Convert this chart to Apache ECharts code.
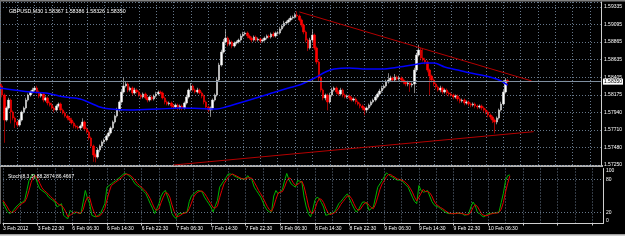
<!DOCTYPE html>
<html><head><meta charset="utf-8">
<script src="https://cdn.jsdelivr.net/npm/echarts@6/dist/echarts.min.js"></script>
<style>html,body{margin:0;padding:0;background:#000;}#c{width:625px;height:250px;}</style>
</head><body><div id="c"></div>
<script>
// ---- tick labels ----
const timeLabels = ['3 Feb 2012','3 Feb 22:30','6 Feb 06:30','6 Feb 14:30','6 Feb 22:30','7 Feb 06:30','7 Feb 14:30','7 Feb 22:30','8 Feb 06:30','8 Feb 14:30','8 Feb 22:30','9 Feb 06:30','9 Feb 14:30','9 Feb 22:30','10 Feb 06:30'];
const priceLabels = ['1.57250','1.57480','1.57710','1.57940','1.58175','1.58405','1.58635','1.58865','1.59095','1.59335'];
const stochLevels = [0, 20, 80, 100];
const headerText = 'GBPUSD,M30 1.58367 1.58386 1.58326 1.58350';
const stochText = 'Stoch(8,3,3) 88.2874 86.4667';

// ---- candles (M30) ----
const firstOpen = 1.58319;
const closes = [
1.58292,1.58173,1.57843,1.58002,1.58107,1.57949,1.57870,1.57817,1.57777,1.57843,
1.57949,1.58002,1.58107,1.58173,1.58213,1.58239,1.58266,1.58213,1.58160,1.58187,
1.58107,1.58134,1.58068,1.58041,1.58002,1.57975,1.58028,1.58055,1.57975,1.57936,
1.57896,1.57870,1.57843,1.57804,1.57764,1.57751,1.57738,1.57764,1.57817,1.57725,
1.57685,1.57606,1.57500,1.57382,1.57355,1.57448,1.57500,1.57553,1.57580,1.57632,
1.57672,1.57738,1.57817,1.57896,1.57975,1.58081,1.58213,1.58292,1.58319,1.58239,
1.58266,1.58200,1.58239,1.58213,1.58173,1.58147,1.58187,1.58134,1.58107,1.58147,
1.58121,1.58160,1.58187,1.58213,1.58200,1.58134,1.58081,1.58055,1.58068,1.58028,
1.58015,1.58041,1.58002,1.58028,1.58002,1.58068,1.58147,1.58239,1.58292,1.58239,
1.58213,1.58239,1.58200,1.58160,1.58081,1.58015,1.57975,1.58002,1.58107,1.58173,
1.58371,1.58569,1.58741,1.58873,1.58926,1.58846,1.58873,1.58820,1.58860,1.58873,
1.58899,1.58952,1.58978,1.58992,1.58952,1.58926,1.58899,1.58939,1.58899,1.58912,
1.58886,1.58899,1.58926,1.58952,1.58939,1.58978,1.58952,1.58992,1.58992,1.59044,
1.59084,1.59123,1.59137,1.59163,1.59189,1.59203,1.59229,1.59216,1.59163,1.59097,
1.59005,1.58899,1.58794,1.58899,1.58965,1.58794,1.58609,1.58398,1.58239,1.58134,
1.58173,1.58081,1.58173,1.58239,1.58266,1.58213,1.58187,1.58239,1.58173,1.58147,
1.58160,1.58134,1.58107,1.58121,1.58081,1.58055,1.58028,1.58002,1.57975,1.58002,
1.58041,1.58081,1.58107,1.58147,1.58187,1.58226,1.58266,1.58292,1.58345,1.58371,
1.58398,1.58371,1.58411,1.58385,1.58398,1.58371,1.58345,1.58319,1.58332,1.58305,
1.58319,1.58503,1.58701,1.58767,1.58662,1.58635,1.58609,1.58503,1.58424,1.58371,
1.58319,1.58279,1.58239,1.58266,1.58213,1.58239,1.58200,1.58187,1.58173,1.58147,
1.58160,1.58121,1.58094,1.58107,1.58068,1.58081,1.58055,1.58041,1.58055,1.58028,
1.58015,1.58028,1.58002,1.57975,1.57949,1.57909,1.57883,1.57843,1.57817,1.57870,
1.57975,1.58055,1.58213,1.58367,1.58350];
// wick lengths in pips (0.0001)
const wickHigh = [
2,3,2,2,3,2,2,2,2,2, 2,2,3,2,2,3,2,3,2,2, 2,2,2,2,3,2,2,2,2,2, 2,2,2,3,2,2,2,2,5,2,
2,2,2,2,2,3,2,2,2,2, 2,2,2,2,3,2,3,11,3,2, 2,2,3,2,2,2,2,2,2,2, 2,2,3,2,2,2,2,2,2,2,
2,2,2,2,2,2,3,2,4,2, 2,3,2,2,2,2,2,2,2,2, 3,3,3,4,11,2,3,2,2,2, 2,3,3,2,2,2,2,2,2,2,
2,2,2,2,2,2,3,2,3,3, 2,3,2,2,3,2,3,5,2,2, 2,2,2,3,7,2,2,2,2,2, 2,2,3,3,2,2,2,3,2,2,
2,2,2,2,2,2,2,2,2,2, 2,2,2,2,2,3,3,2,3,9, 3,2,4,2,3,2,2,2,3,2, 2,3,3,7,3,13,3,2,2,2,
2,2,2,3,2,2,2,2,2,2, 2,2,2,2,2,2,2,2,2,2, 2,2,2,2,2,2,2,2,2,2, 2,3,3,3,1.9];
const wickLow = [
2,3,30,2,2,15,3,8,3,2, 2,2,2,2,2,2,2,2,3,2, 3,2,3,2,2,3,2,2,3,2, 2,3,2,2,3,2,2,3,2,2,
2,3,2,9,7,2,3,2,2,2, 2,2,2,2,2,2,2,2,2,3, 2,3,2,2,2,3,2,2,3,2, 2,2,2,2,2,2,3,2,2,3,
3,2,3,2,3,2,2,2,2,2, 2,2,2,3,3,3,3,9,3,2, 2,2,2,2,2,3,2,3,2,2, 2,2,2,2,3,2,3,2,2,2,
3,2,2,2,2,2,2,2,2,2, 2,2,2,2,2,2,2,2,2,3, 3,3,4,2,2,3,3,4,3,3, 3,11,2,2,2,3,2,2,3,2,
2,3,2,2,3,2,3,3,7,3, 2,2,2,2,2,2,2,2,2,2, 2,2,2,2,2,3,3,3,3,9, 3,12,2,2,3,2,3,3,25,3,
3,3,2,3,3,2,3,3,2,3, 2,3,3,2,3,2,3,3,2,3, 3,2,3,3,3,3,3,4,15,3, 2,2,2,2,2.4];

// ---- moving average (blue) read at bar positions ----
const maBars = [0,14,21,30,37,46,51,60,73,83,92,100,104,115,124,133,138,145,150,154,161,169,176,184,190,196,200,205,211,217,224,230,234];
const maValues = [1.58266,1.58213,1.58200,1.58147,1.58121,1.58015,1.57988,1.57975,1.57988,1.58002,1.57995,1.57988,1.58015,1.58107,1.58187,1.58266,1.58305,1.58398,1.58477,1.58516,1.58530,1.58516,1.58516,1.58543,1.58569,1.58596,1.58596,1.58543,1.58503,1.58464,1.58424,1.58371,1.58305];

// ---- trendlines [bar, price] ----
const trendUpper = [[138, 1.5927], [245, 1.5836]];
const trendLower = [[80, 1.5725], [246, 1.5769]];
const lastPrice = 1.58350;

// ---- Stochastic (8,3,3) ----
const stochMain = [
39,30,22,18,20,25,30,34,37,39, 42,60,78,86,90,84,72,63,60,57, 54,48,45,42,39,30,33,36,15,11,
9,24,20,18,21,19,18,39,60,46, 36,15,13,12,15,18,27,36,66,69, 72,75,78,81,84,88,91,90,87,84,
78,72,69,66,63,58,54,45,36,28, 18,27,36,50,57,60,48,36,18,12, 9,18,18,18,20,21,40,50,54,57,
60,59,57,48,42,36,30,21,32,42, 66,72,78,84,90,90,89,86,84,82, 81,81,81,87,82,78,66,60,54,48,
39,30,24,21,21,50,60,54,58,62, 78,91,80,72,69,66,78,77,75,48, 30,18,12,25,42,48,45,38,30,15,
16,18,19,21,28,36,40,45,50,54, 45,36,28,21,24,32,39,39,36,24, 27,30,48,66,72,78,85,92,89,86,
84,81,79,79,79,74,70,66,57,48, 40,36,69,60,57,58,60,50,40,34, 31,30,27,24,21,19,18,18,18,19,
19,18,18,15,16,18,30,39,33,20, 18,14,12,15,18,18,19,19,20,21, 38,55,78,87,88.2874];
const stochSignal = [
42,36,30,23,20,21,25,30,34,37, 39,47,60,75,85,87,82,73,65,60, 57,53,49,45,42,37,34,33,28,21,
12,15,18,21,20,19,19,25,39,48, 47,32,21,13,13,15,20,27,43,57, 69,72,75,78,81,84,88,90,89,87,
83,78,73,69,66,62,58,52,45,36, 27,24,27,38,48,56,55,48,34,22, 13,13,15,18,19,20,27,37,48,54,
57,59,59,55,49,42,36,29,28,32, 47,60,72,78,84,88,90,88,86,84, 82,81,81,83,83,82,75,68,60,54,
47,39,31,25,22,31,44,55,57,58, 66,77,83,81,74,69,71,74,77,67, 51,32,20,18,26,38,45,44,38,28,
20,16,18,19,23,28,35,40,45,50, 50,45,36,28,24,26,32,37,38,33, 29,27,35,48,62,72,78,85,89,89,
86,84,81,80,79,77,74,70,64,57, 48,41,48,55,62,58,58,56,50,41, 35,32,29,27,24,21,19,18,18,18,
19,19,18,17,16,16,21,29,34,31, 24,17,15,14,15,17,18,19,19,20, 26,38,57,73,86.4667];

// ---- build ----
const PIP = 0.0001;
const nSlots = 278;            // bar slots across the chart width (incl. empty future space)
const cats = Array.from({length: nSlots}, (_, i) => i);
const candles = closes.map((c, i) => {
  const o = i === 0 ? firstOpen : closes[i - 1];
  return [o, c, Math.min(o, c) - wickLow[i] * PIP, Math.max(o, c) + wickHigh[i] * PIP];
});
const maData = maBars.map((b, i) => [b, maValues[i]]);
const priceMin = 1.5725, priceMax = 1.59401;
const priceStep = (1.59335 - 1.5725) / 9;

const FONT = 'Liberation Sans';
const txt = {color: '#ffffff', fontFamily: FONT, fontSize: 5};
const gridLine = {color: '#66778a', type: [1, 2], width: 1};

const chart = echarts.init(document.getElementById('c'), null, {renderer: 'canvas'});
chart.setOption({
  backgroundColor: '#000000',
  animation: false,
  title: [
    {text: headerText, left: 4, top: 4, textStyle: {...txt, fontSize: 5.3, fontWeight: 'normal'}},
    {text: stochText, left: 3, top: 169.5, textStyle: {...txt, fontWeight: 'normal'}}
  ],
  grid: [
    {left: 0, right: 22, top: 2, height: 163},
    {left: 0, right: 22, top: 168.5, height: 55}
  ],
  xAxis: [
    {gridIndex: 0, type: 'category', data: cats, boundaryGap: false,
     axisLine: {show: false}, axisTick: {show: false}, axisLabel: {show: false},
     splitLine: {show: true, interval: 7, lineStyle: gridLine}},
    {gridIndex: 1, type: 'category', data: cats, boundaryGap: false,
     axisLine: {show: true, lineStyle: {color: '#d0d0d0', width: 1}},
     axisTick: {show: true, interval: 15, length: 2, lineStyle: {color: '#d0d0d0'}},
     axisLabel: {show: true, interval: 15, align: 'left', margin: 3, ...txt,
       formatter: (v, idx) => (idx % 16 === 0 && timeLabels[idx / 16]) || ''},
     splitLine: {show: true, interval: 7, lineStyle: gridLine}}
  ],
  yAxis: [
    {gridIndex: 0, type: 'value', min: priceMin, max: priceMax, show: false, position: 'right'},
    {gridIndex: 0, type: 'value', position: 'right', min: 0, max: (priceMax - priceMin) / priceStep, interval: 1,
     axisLine: {show: true, lineStyle: {color: '#d0d0d0', width: 1}}, axisTick: {show: false},
     axisLabel: {...txt, margin: 3, formatter: v => {
       const k = Math.round(v); return Math.abs(v - k) < 1e-6 && priceLabels[k] ? priceLabels[k] : '';
     }},
     splitLine: {show: true, lineStyle: gridLine}},
    {gridIndex: 1, type: 'value', position: 'right', min: 0, max: 100, interval: 20,
     axisLine: {show: true, lineStyle: {color: '#d0d0d0', width: 1}}, axisTick: {show: false},
     axisLabel: {...txt, margin: 3, formatter: v => {
       if (!stochLevels.includes(v)) return '';
       if (v === 100) return '{a|100}';
       if (v === 0) return '{b|0}';
       return String(v);
     }, rich: {a: {...txt, padding: [5, 0, 0, 0]}, b: {...txt, padding: [0, 0, 5, 0]}}},
     splitLine: {show: false}}
  ],
  series: [
    {type: 'candlestick', xAxisIndex: 0, yAxisIndex: 0, data: candles, barWidth: 2,
     itemStyle: {color: '#ffffff', color0: '#ff0000', borderColor: '#d8d8d8', borderColor0: '#ff0000', borderWidth: 0.6},
     markLine: {silent: true, symbol: 'none', animation: false,
       lineStyle: {color: '#b40000', width: 1, type: 'solid'}, label: {show: false},
       data: [
         [{coord: trendUpper[0]}, {coord: trendUpper[1]}],
         [{coord: trendLower[0]}, {coord: trendLower[1]}],
         [{coord: [0, lastPrice], lineStyle: {color: '#7f8fa0', width: 1, type: 'solid'},
           label: {show: true, position: 'end', distance: 2, formatter: lastPrice.toFixed(5),
                   backgroundColor: '#ffffff', color: '#000000', fontFamily: FONT, fontSize: 5, padding: [1, 1, 0, 1]}},
          {coord: [nSlots - 1, lastPrice]}]
       ]}},
    {type: 'line', xAxisIndex: 0, yAxisIndex: 0, data: maData, symbol: 'none', smooth: 0.3,
     lineStyle: {color: '#0000ff', width: 1.5}, z: 3},
    {type: 'line', xAxisIndex: 1, yAxisIndex: 2, data: stochMain, symbol: 'none',
     lineStyle: {color: '#00b400', width: 1},
     markLine: {silent: true, symbol: 'none', label: {show: false}, lineStyle: gridLine,
                data: [{yAxis: 20}, {yAxis: 80}]}},
    {type: 'line', xAxisIndex: 1, yAxisIndex: 2, data: stochSignal, symbol: 'none',
     lineStyle: {color: '#e00000', width: 1}}
  ],
  graphic: [
    {type: 'rect', shape: {x: 0, y: 0, width: 625, height: 1.5}, style: {fill: '#808080'}, silent: true},
    {type: 'rect', shape: {x: 0, y: 0, width: 1, height: 224}, style: {fill: '#707070'}, silent: true},
    {type: 'rect', shape: {x: 0, y: 165, width: 603, height: 2}, style: {fill: '#b0b0b0'}, silent: true},
    {type: 'rect', shape: {x: 0, y: 234, width: 625, height: 16}, style: {fill: '#ffffff'}, silent: true},
    {type: 'rect', shape: {x: 0, y: 234, width: 625, height: 1.5}, style: {fill: '#a0a0a0'}, silent: true}
  ]
});
</script>
</body></html>
